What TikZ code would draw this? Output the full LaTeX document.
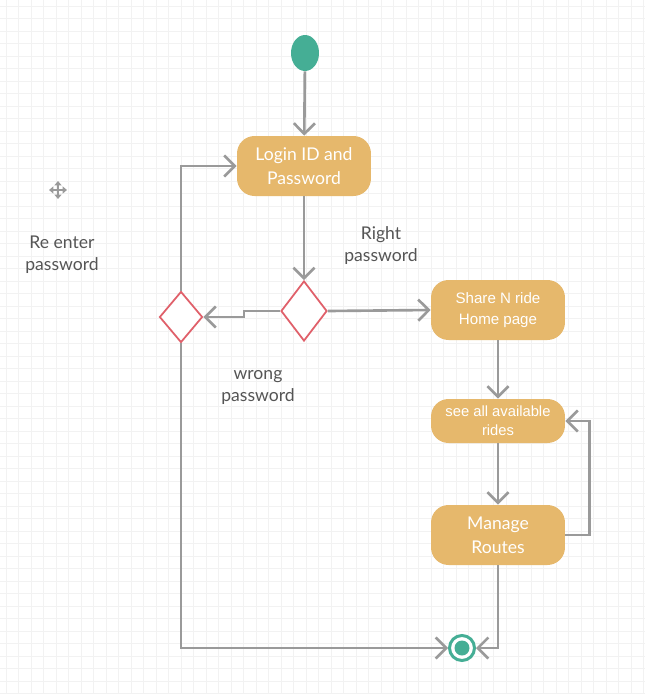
\documentclass[tikz,border=0pt]{standalone}
\usepackage{fontspec}
\setmainfont{Lato}
\newfontfamily\arialfont{Liberation Sans}
\usepackage{tikz}
\usetikzlibrary{shapes.geometric, arrows.meta}

\definecolor{teal}{HTML}{45AE95}
\definecolor{boxfill}{HTML}{E6B86C}
\definecolor{decred}{HTML}{E0606A}
\definecolor{linegray}{HTML}{9A9A9A}
\definecolor{textgray}{HTML}{555555}

\begin{document}
\begin{tikzpicture}[x=0.02cm, y=-0.02cm,
    >={Straight Barb[length=6pt, width=12pt]},
    flow/.style={->, draw=linegray, line width=1.5pt},
    activity/.style={rectangle, rounded corners=10pt, fill=boxfill, text=white,
        minimum width=2.68cm, align=center, inner sep=2pt},
    decision/.style={diamond, draw=decred, line width=1pt, fill=white, inner sep=0pt},
    note/.style={text=textgray, align=center, font=\fontsize{10}{12.5}\selectfont}]
    \useasboundingbox (0,0) rectangle (645,694);
    \fill[white] (0,0) rectangle (645,694);
    \foreach \g in {6,18.5,...,645} \draw[black!5, line width=0.4pt] (\g,0) -- (\g,694);
    \foreach \g in {6,18.5,...,694} \draw[black!5, line width=0.4pt] (0,\g) -- (645,\g);

    \node[ellipse, fill=teal, minimum width=0.56cm, minimum height=0.72cm] (start) at (305,53) {};
    \node[activity, minimum height=1.2cm, font=\fontsize{10}{13.5}\selectfont] (login) at (304,166) {Login ID and\\Password};
    \node[decision, minimum width=0.92cm, minimum height=1.2cm] (check) at (304,311) {};
    \node[decision, minimum width=0.86cm, minimum height=1.02cm] (retry) at (181,317) {};
    \node[activity, minimum height=1.2cm, font=\arialfont\fontsize{8.6}{12}\selectfont] (home) at (498,310) {Share N ride\\Home page};
    \node[activity, minimum height=0.88cm, font=\arialfont\fontsize{8.4}{11}\selectfont] (rides) at (498,421) {see all available\\rides};
    \node[activity, minimum height=1.2cm, font=\fontsize{10}{13.5}\selectfont] (routes) at (498,535) {Manage\\Routes};
    \node[circle, draw=teal, line width=1.7pt, fill=white, minimum size=0.5cm, inner sep=0pt,
        path picture={\fill[teal] (path picture bounding box.center) circle (0.15cm);}] (stop) at (462,648) {};

    \node[note] (right) at (381,246) {Right\\password};
    \node[note] (wrong) at (258,387) {wrong\\password};
    \node[note] (reenter) at (62,255) {Re enter\\password};

    \draw[flow] (start) -- (login);
    \draw[flow] (login) -- (check);
    \draw[flow] (check.east) -- (home.west);
    \draw[flow] (check.west) -- ++(-36,0) |- (retry.east);
    \draw[flow] (retry.north) |- (login.west);
    \draw[flow] (retry.south) |- (stop.west);
    \draw[flow] (home) -- (rides);
    \draw[flow] (rides) -- (routes);
    \draw[flow] (routes.east) -- ++(24,0) |- (rides.east);
    \draw[flow] (routes.south) |- (stop.east);

    \draw[linegray, line width=1.2pt, {Triangle[length=2.5pt, width=4pt]}-{Triangle[length=2.5pt, width=4pt]}] (49,190) -- (67,190);
    \draw[linegray, line width=1.2pt, {Triangle[length=2.5pt, width=4pt]}-{Triangle[length=2.5pt, width=4pt]}] (58,181) -- (58,199);
\end{tikzpicture}
\end{document}
